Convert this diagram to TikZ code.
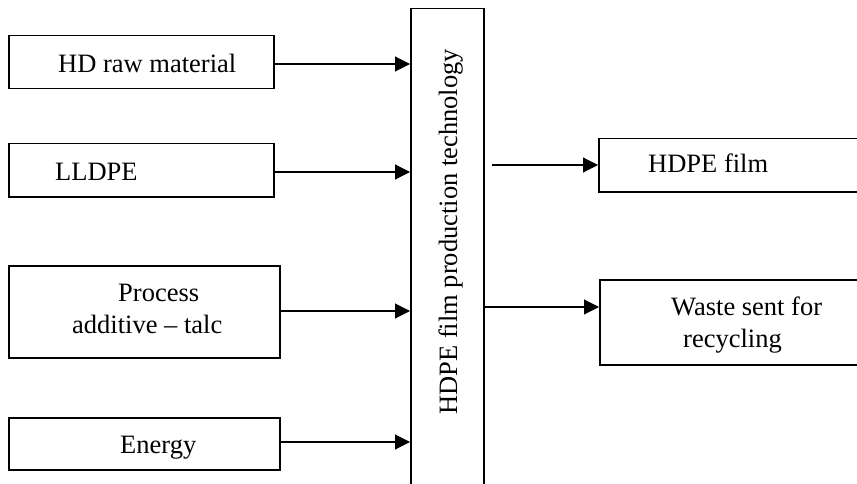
\documentclass[tikz,border=0pt]{standalone}
\usepackage{fontspec}
\setmainfont{Liberation Serif}
\usetikzlibrary{arrows.meta}
\begin{document}
\begin{tikzpicture}[x=1pt,y=-1pt,
  box/.style={draw, line width=1.5pt, rectangle, inner sep=0pt, anchor=north west},
  lbl/.style={font=\fontsize{26.5}{32}\selectfont, inner sep=0pt},
  arr/.style={line width=1.1pt, -{Triangle[length=15pt,width=15pt]}}]
\clip (0,0) rectangle (857,484);
\fill[white] (0,0) rectangle (857,484);
% boxes
\node[box, minimum width=265, minimum height=53] (hd) at (8,35) {};
\node[box, minimum width=265, minimum height=53] (ll) at (8,143) {};
\node[box, minimum width=271, minimum height=92] (pr) at (8,265) {};
\node[box, minimum width=271, minimum height=52] (en) at (8,417) {};
\node[box, minimum width=73, minimum height=520] (c) at (410,8) {};
\node[box, minimum width=280, minimum height=53] (film) at (598,138) {};
\node[box, minimum width=280, minimum height=85] (waste) at (599,279) {};
% labels
\node[lbl, anchor=base west] (thd) at (58,73) {HD raw material};
\node[lbl, anchor=base west] (tll) at (55,180) {LLDPE};
\node[lbl, anchor=base west] (tpr1) at (118,301) {Process};
\node[lbl, anchor=base west] (tpr2) at (72,333) {additive – talc};
\node[lbl, anchor=base west] (ten) at (120,453) {Energy};
\node[lbl, anchor=base west, rotate=90] (tc) at (457,415) {HDPE film production technology};
\node[lbl, anchor=base west] (tfilm) at (648,173) {HDPE film};
\node[lbl, anchor=base west] (tw1) at (671,315) {Waste sent for};
\node[lbl, anchor=base west] (tw2) at (683,347) {recycling};
% connectors
\coordinate (hdo) at (273,64);
\coordinate (llo) at (273,172);
\coordinate (pro) at (279,311);
\coordinate (eno) at (279,442);
\draw[arr] (hdo) -- (hdo -| c.west);
\draw[arr] (llo) -- (llo -| c.west);
\draw[arr] (pro) -- (pro -| c.west);
\draw[arr] (eno) -- (eno -| c.west);
\coordinate (o1) at (492,165);
\coordinate (o2) at (483,307);
\draw[arr] (o1) -- (o1 -| film.west);
\draw[arr] (o2) -- (o2 -| waste.west);
\end{tikzpicture}
\end{document}
